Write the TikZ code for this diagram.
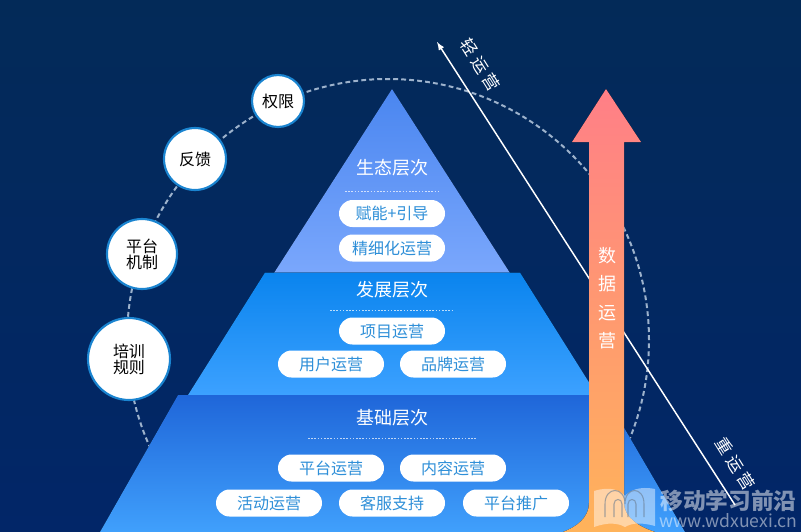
\documentclass[tikz,border=0pt]{standalone}
\usepackage{fontspec}
\setmainfont{Noto Sans CJK SC}
\usetikzlibrary{shapes}
\usetikzlibrary{arrows}

\definecolor{bgtop}{HTML}{032A58}
\definecolor{bgbot}{HTML}{022668}
\definecolor{pilltext}{HTML}{2E8FD8}
\definecolor{ringline}{HTML}{9DB2CC}
\definecolor{roundline}{HTML}{1A84D0}
\definecolor{eyetop}{HTML}{4A86F0}
\definecolor{eyebot}{HTML}{7AA7FC}
\definecolor{midtop}{HTML}{0A84EE}
\definecolor{midbot}{HTML}{3CA1FF}
\definecolor{lowtop}{HTML}{1F66D9}
\definecolor{lowbot}{HTML}{40A0FC}
\definecolor{arrowtop}{HTML}{FF7F87}
\definecolor{arrowbot}{HTML}{FFB35A}
\definecolor{archline}{HTML}{6A7C90}

\tikzset{
pill/.style={shape=rounded rectangle,fill=white,text=pilltext,inner sep=0pt,minimum width=79.5pt,minimum height=20.25pt,font=\fontsize{12}{14}\selectfont},
title/.style={text=white,inner sep=0pt,font=\fontsize{13.5}{16}\selectfont},
round/.style={shape=circle,fill=white,draw=roundline,line width=1.6pt,inner sep=0pt,align=center,text=black,font=\fontsize{12}{14}\selectfont},
slant/.style={text=white,inner sep=0pt,rotate=-58,font=\fontsize{12.5}{15}\selectfont},
sepline/.style={white,opacity=0.7,line width=0.45pt,dash pattern=on 1.2pt off 1.2pt},
mark text/.style={text=white,opacity=0.5,inner sep=0pt},
}

\begin{document}
\begin{tikzpicture}[x=0.75pt,y=-0.75pt]
\useasboundingbox (0,0) rectangle (801,532);
\fill[top color=bgtop,bottom color=bgbot] (0,0) rectangle (801,532);

% ring behind everything
\node[shape=circle,draw=ringline,line width=1.5pt,dash pattern=on 3.6pt off 2.4pt,minimum size=391.5pt,inner sep=0pt](ring) at (388,340){};

% long line
\coordinate(heavyend) at (735,505);
\coordinate(lightend) at (437,42);
\draw[-latex,white,line width=1.1pt] (heavyend) -- (lightend);

% pyramid
\fill[top color=eyetop,bottom color=eyebot] (392,89) -- (510,273) -- (274,273) -- cycle;
\fill[top color=midtop,bottom color=midbot] (265,272.5) -- (520,272.5) -- (597,395) -- (188,395) -- cycle;
\fill[top color=lowtop,bottom color=lowbot] (178,395) -- (605,395) -- (685,532) -- (100,532) -- cycle;

% arrow
\fill[top color=arrowtop,bottom color=arrowbot] (606,89) -- (641,142) -- (624,142) -- (624,503) .. controls (624,518) and (640,527) .. (655,532) -- (563,532) .. controls (576,527) and (589,518) .. (589,503) -- (589,142) -- (572,142) -- cycle;

% titles
\node[title](eco) at (392,168){生态层次};
\node[title](dev) at (392,290){发展层次};
\node[title](base) at (392,418){基础层次};
\coordinate(ecoL) at (345,191);
\coordinate(ecoR) at (439,191);
\coordinate(devL) at (330,310);
\coordinate(devR) at (453,310);
\coordinate(baseL) at (308,438);
\coordinate(baseR) at (476,438);
\draw[sepline] (ecoL) -- (ecoR);
\draw[sepline] (devL) -- (devR);
\draw[sepline] (baseL) -- (baseR);

% pills
\node[pill](empower) at (392,213.5){赋能+引导};
\node[pill](fine) at (392,248){精细化运营};
\node[pill](project) at (392,331){项目运营};
\node[pill](user) at (331,364){用户运营};
\node[pill](brand) at (453,364){品牌运营};
\node[pill](platform) at (331,468){平台运营};
\node[pill](content) at (453,468){内容运营};
\node[pill](activity) at (269,503){活动运营};
\node[pill](service) at (392,503){客服支持};
\node[pill](promo) at (516,503){平台推广};

% circles on the ring
\node[round,minimum size=39pt](rights) at (278,101){权限};
\node[round,minimum size=46.5pt](feedback) at (195,159){反馈};
\node[round,minimum size=52.5pt](mech) at (142,254){平台\\[-2pt]机制};
\node[round,minimum size=61.5pt](train) at (129,359){培训\\[-2pt]规则};

% slanted and upright labels
\node[slant](light) at (480,65){轻\hspace{3pt}运\hspace{3pt}营};
\node[slant](heavy) at (735,464){重\hspace{3pt}运\hspace{3pt}营};
\node[title,align=center,font=\fontsize{13.5}{21.4}\selectfont](data) at (607,298){数\\据\\运\\营};

% watermark
\fill[white,opacity=0.45] (594,491) .. controls (610,486) and (620,490) .. (625,496) .. controls (630,490) and (640,486) .. (655,489) -- (655,526) .. controls (640,522) and (632,523) .. (625,527) .. controls (618,523) and (608,522) .. (594,527) -- cycle;
\draw[archline,opacity=0.6,line width=0.8pt] (605,517) -- (605,504) .. controls (605,486) and (625,486) .. (625,504) .. controls (625,486) and (644,486) .. (644,504) -- (644,517);
\draw[archline,opacity=0.6,line width=0.8pt] (614,517) -- (614,504) .. controls (614,498) and (622,498) .. (622,504) -- (622,517);
\draw[archline,opacity=0.6,line width=0.8pt] (628,517) -- (628,504) .. controls (628,498) and (636,498) .. (636,504) -- (636,517);
\node[mark text,font=\fontsize{17}{19}\bfseries\selectfont](wmcn) at (728.5,501){移动学习前沿};
\node[mark text,font=\fontsize{13.2}{15}\selectfont](wmurl) at (728.5,521){www.wdxuexi.cn};
\end{tikzpicture}
\end{document}
